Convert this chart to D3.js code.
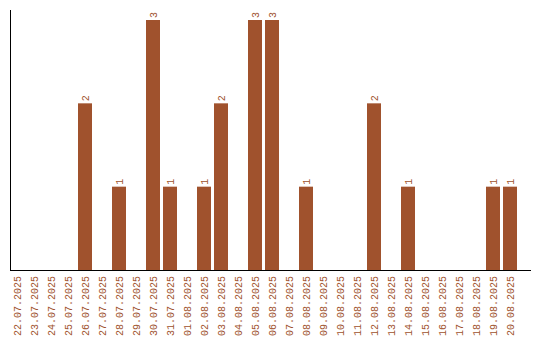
<!DOCTYPE html>
<html>
<head>
<meta charset="utf-8">
<script src="https://cdn.jsdelivr.net/npm/d3@7"></script>
<style>
  body { margin: 0; background: #fff; }
  text { font-family: "Liberation Mono", monospace; }
</style>
</head>
<body>
<div id="wrapper"></div>
<script>
const dates = ["22.07.2025","23.07.2025","24.07.2025","25.07.2025","26.07.2025","27.07.2025",
    "28.07.2025","29.07.2025","30.07.2025","31.07.2025","01.08.2025","02.08.2025","03.08.2025",
    "04.08.2025","05.08.2025","06.08.2025","07.08.2025","08.08.2025","09.08.2025","10.08.2025",
    "11.08.2025","12.08.2025","13.08.2025","14.08.2025","15.08.2025","16.08.2025","17.08.2025",
    "18.08.2025","19.08.2025","20.08.2025"];
const counts = [0,0,0,0,2,0,1,0,3,1,0,1,2,0,3,3,0,1,0,0,0,2,0,1,0,0,0,0,1,1];

const color = "#a0522d";
const width = 540, height = 340;

const svg = d3.select("#wrapper")
    .append("svg")
    .attr("width", width)
    .attr("height", height);

const x = d3.scaleBand()
    .domain(dates)
    .range([10, 517])
    .paddingInner(3/17)
    .paddingOuter(0);

const y = d3.scaleLinear()
    .domain([0, 3])
    .range([270, 20]);

const data = dates.map((d, i) => ({date: d, value: counts[i]}));

// bars
svg.append("g")
    .selectAll("rect")
    .data(data.filter(d => d.value > 0))
    .enter()
    .append("rect")
    .attr("x", d => x(d.date))
    .attr("y", d => y(d.value))
    .attr("width", x.bandwidth())
    .attr("height", d => y(0) - y(d.value))
    .style("fill", color);

// value labels
svg.append("g")
    .selectAll("text")
    .data(data.filter(d => d.value > 0))
    .enter()
    .append("text")
    .attr("transform", d => `translate(${x(d.date) + x.bandwidth()/2 + 3.5},${y(d.value) - 2}) rotate(-90)`)
    .style("font-size", "10px")
    .style("fill", color)
    .text(d => d.value);

// date labels
svg.append("g")
    .selectAll("text")
    .data(dates)
    .enter()
    .append("text")
    .attr("transform", d => `translate(${x(d) + x.bandwidth()/2 + 3.5},276) rotate(-90)`)
    .style("text-anchor", "end")
    .style("font-size", "10px")
    .style("fill", color)
    .text(d => d);

// axes lines
svg.append("line")
    .attr("x1", 10.5).attr("x2", 10.5)
    .attr("y1", 10).attr("y2", 270.5)
    .style("stroke", "#000");
svg.append("line")
    .attr("x1", 10).attr("x2", 531)
    .attr("y1", 270.5).attr("y2", 270.5)
    .style("stroke", "#000");
</script>
</body>
</html>
